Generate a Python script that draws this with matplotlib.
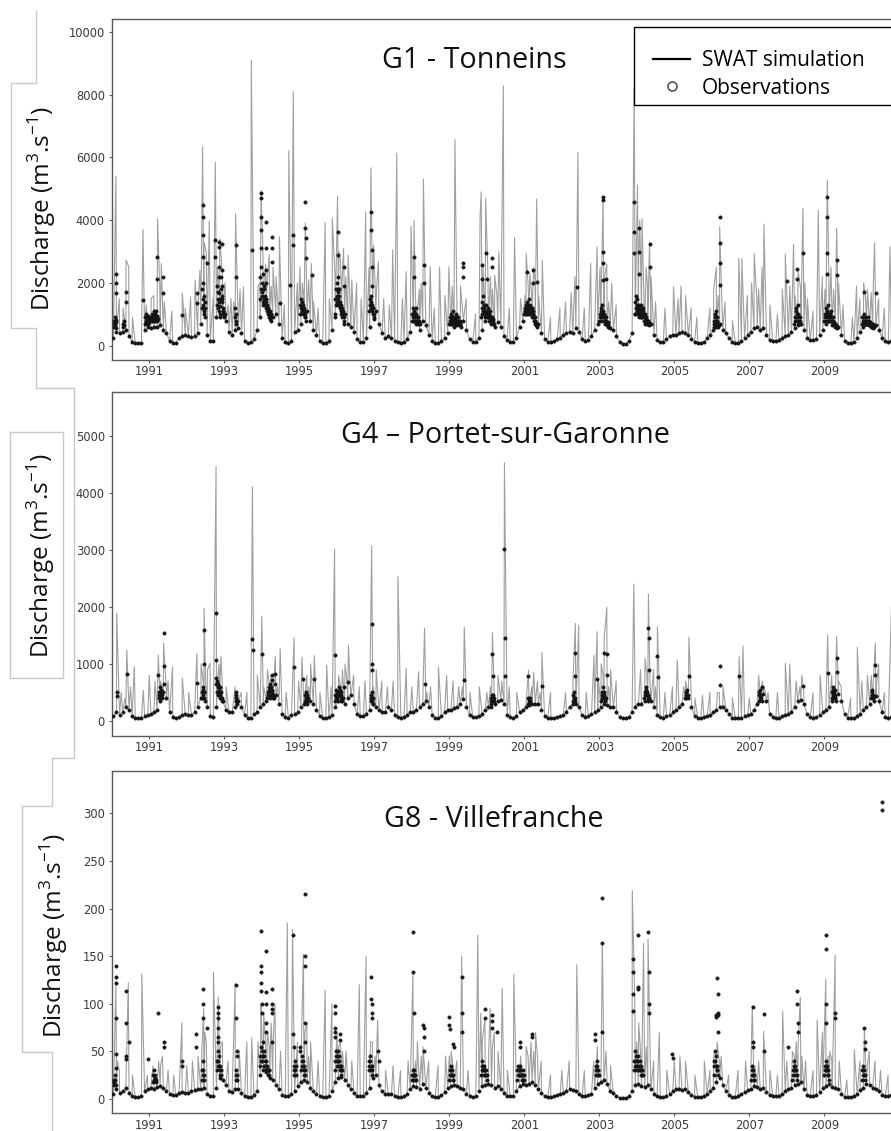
import matplotlib
matplotlib.use("Agg")
import matplotlib.pyplot as plt
from matplotlib.lines import Line2D
from matplotlib.patches import Rectangle

# ---------------------------------------------------------------- data
years = list(range(1990, 2011))
tick_years = [1991, 1993, 1995, 1997, 1999, 2001, 2003, 2005, 2007, 2009]

# Monthly flow level (Jan..Dec) for each year, m3/s
g1_monthly = [
    [250, 450, 400, 450, 500, 300, 120, 90, 80, 100, 500, 600],
    [550, 600, 600, 650, 500, 400, 150, 100, 100, 250, 300, 350],
    [300, 280, 300, 400, 700, 1000, 350, 150, 160, 900, 1500, 1100],
    [800, 450, 350, 500, 550, 400, 150, 100, 110, 200, 500, 900],
    [1300, 1500, 1100, 900, 1000, 700, 250, 120, 100, 150, 450, 500],
    [700, 1000, 1100, 800, 500, 350, 150, 90, 80, 150, 500, 900],
    [1300, 1200, 1000, 700, 600, 450, 200, 130, 120, 250, 600, 1200],
    [1100, 700, 400, 250, 300, 250, 150, 120, 100, 120, 200, 450],
    [800, 700, 500, 800, 650, 350, 150, 100, 100, 150, 250, 400],
    [700, 600, 650, 700, 800, 500, 200, 120, 130, 250, 500, 800],
    [900, 700, 600, 750, 600, 300, 180, 120, 130, 250, 600, 800],
    [1000, 1100, 1200, 900, 700, 400, 200, 130, 120, 150, 200, 250],
    [350, 400, 450, 400, 550, 450, 200, 150, 180, 300, 500, 700],
    [800, 900, 700, 550, 500, 300, 120, 70, 70, 150, 400, 1000],
    [1000, 900, 700, 800, 700, 350, 180, 120, 130, 200, 300, 350],
    [350, 400, 450, 400, 350, 200, 120, 90, 90, 120, 250, 350],
    [500, 600, 700, 500, 400, 250, 120, 100, 100, 150, 250, 350],
    [450, 550, 600, 500, 550, 350, 180, 150, 150, 180, 250, 300],
    [350, 450, 550, 650, 700, 500, 250, 170, 180, 220, 350, 500],
    [700, 800, 650, 700, 600, 350, 150, 100, 90, 110, 250, 450],
    [600, 700, 650, 550, 650, 500, 250, 150, 130, 150, 250, 300],
]
g4_monthly = [
    [80, 150, 100, 150, 250, 200, 80, 50, 50, 60, 80, 100],
    [120, 150, 200, 350, 500, 400, 150, 70, 60, 70, 100, 120],
    [100, 110, 150, 250, 400, 500, 250, 80, 70, 250, 500, 350],
    [200, 150, 150, 250, 350, 250, 100, 60, 60, 120, 150, 250],
    [300, 350, 400, 450, 450, 300, 120, 70, 60, 100, 120, 150],
    [250, 300, 300, 350, 300, 200, 90, 60, 60, 70, 100, 250],
    [350, 350, 300, 400, 450, 300, 120, 80, 80, 120, 200, 300],
    [250, 200, 150, 150, 250, 200, 100, 70, 60, 70, 100, 150],
    [150, 200, 250, 300, 350, 250, 100, 60, 60, 80, 150, 200],
    [200, 220, 250, 300, 380, 250, 100, 70, 70, 80, 120, 200],
    [250, 250, 300, 350, 370, 300, 100, 70, 60, 80, 150, 200],
    [250, 280, 300, 300, 300, 200, 90, 60, 60, 60, 70, 80],
    [100, 150, 250, 300, 300, 250, 100, 70, 80, 120, 150, 200],
    [250, 300, 280, 250, 250, 150, 70, 50, 50, 70, 150, 250],
    [300, 300, 350, 370, 350, 250, 100, 70, 60, 80, 100, 150],
    [200, 250, 300, 400, 450, 250, 80, 60, 60, 70, 80, 100],
    [150, 200, 250, 250, 200, 120, 60, 50, 50, 60, 80, 100],
    [120, 200, 300, 450, 480, 350, 120, 70, 60, 60, 80, 100],
    [120, 150, 250, 350, 370, 300, 120, 70, 60, 70, 100, 150],
    [200, 250, 350, 400, 480, 350, 120, 60, 55, 60, 80, 120],
    [200, 250, 300, 400, 430, 350, 150, 70, 60, 70, 100, 150],
]
g8_monthly = [
    [5, 10, 6, 8, 12, 6, 3, 2, 2, 3, 8, 10],
    [12, 11, 13, 14, 12, 8, 5, 4, 4, 6, 7, 6],
    [6, 8, 9, 10, 10, 12, 5, 3, 3, 12, 22, 20],
    [15, 8, 7, 10, 10, 6, 3, 2, 2, 4, 8, 25],
    [30, 28, 22, 20, 15, 10, 4, 3, 3, 5, 8, 14],
    [18, 20, 18, 12, 8, 5, 3, 2, 2, 3, 8, 18],
    [22, 23, 20, 15, 10, 6, 3, 3, 3, 6, 12, 22],
    [25, 15, 8, 5, 5, 5, 3, 2, 2, 3, 5, 10],
    [14, 13, 10, 16, 12, 6, 3, 2, 2, 4, 7, 12],
    [14, 15, 14, 12, 10, 5, 3, 2, 3, 8, 14, 15],
    [16, 15, 12, 14, 10, 6, 3, 3, 3, 8, 14, 16],
    [15, 16, 18, 15, 10, 6, 3, 2, 2, 3, 4, 5],
    [6, 8, 10, 9, 8, 5, 3, 3, 4, 5, 12, 16],
    [18, 20, 16, 8, 6, 3, 1.5, 1, 1, 3, 8, 15],
    [16, 14, 13, 15, 10, 5, 3, 2, 2, 3, 5, 8],
    [10, 10, 9, 10, 7, 4, 2, 2, 2, 3, 5, 8],
    [12, 18, 22, 15, 8, 4, 2, 2, 3, 5, 7, 9],
    [10, 14, 13, 10, 12, 7, 4, 3, 3, 3, 5, 8],
    [10, 12, 15, 16, 18, 10, 4, 3, 3, 4, 7, 12],
    [14, 16, 13, 12, 10, 5, 2, 2, 2, 3, 5, 9],
    [12, 16, 15, 12, 10, 8, 4, 3, 3, 4, 5, 8],
]

# Simulated flood peaks: (decimal year, discharge)
g1_sim_peaks = [
    (1990.05, 900), (1990.11, 5400), (1990.20, 1500), (1990.30, 1200), (1990.38, 2730),
    (1990.45, 2520), (1990.55, 900), (1990.83, 3700), (1990.92, 1300), (1991.05, 1500),
    (1991.12, 1600), (1991.22, 4050), (1991.28, 1800), (1991.32, 2620), (1991.40, 1400),
    (1991.60, 1100), (1991.88, 1670), (1991.96, 1200), (1992.10, 1560), (1992.22, 2090),
    (1992.30, 1300), (1992.35, 2400), (1992.42, 6340), (1992.46, 3300), (1992.52, 3000),
    (1992.60, 3970), (1992.70, 1500), (1992.76, 5840), (1992.82, 2500), (1992.88, 3400),
    (1992.95, 2200), (1993.02, 2000), (1993.10, 1300), (1993.18, 1500), (1993.25, 1400),
    (1993.30, 4210), (1993.42, 1800), (1993.51, 1880), (1993.72, 9100), (1993.90, 1900),
    (1993.95, 2000), (1993.98, 4940), (1994.03, 3000), (1994.10, 2600), (1994.15, 2200),
    (1994.20, 2900), (1994.25, 1900), (1994.30, 2500), (1994.38, 2200), (1994.47, 3470),
    (1994.60, 1300), (1994.72, 6210), (1994.84, 8090), (1994.95, 2000), (1995.02, 2520),
    (1995.08, 2000), (1995.12, 1500), (1995.16, 3900), (1995.25, 2100), (1995.32, 2620),
    (1995.38, 1400), (1995.50, 1200), (1995.69, 3920), (1995.80, 1500), (1995.88, 4060),
    (1995.95, 2300), (1996.02, 4770), (1996.06, 3000), (1996.10, 2700), (1996.14, 2000),
    (1996.18, 3100), (1996.24, 2200), (1996.30, 2890), (1996.35, 1500), (1996.40, 2100),
    (1996.53, 1990), (1996.65, 1500), (1996.77, 4270), (1996.86, 2500), (1996.91, 5670),
    (1996.98, 3200), (1997.02, 2000), (1997.06, 1800), (1997.11, 2680), (1997.25, 1500),
    (1997.40, 1300), (1997.49, 3050), (1997.60, 6130), (1997.75, 1500), (1997.85, 2360),
    (1997.98, 3810), (1998.06, 3980), (1998.10, 1500), (1998.20, 1800), (1998.25, 2000),
    (1998.31, 5300), (1998.36, 1500), (1998.49, 2520), (1998.60, 1200), (1998.74, 2500),
    (1998.88, 1600), (1998.99, 2520), (1999.08, 1900), (1999.15, 6570), (1999.20, 1600),
    (1999.30, 1900), (1999.45, 1500), (1999.70, 1000), (1999.82, 4100), (1999.85, 4900),
    (1999.90, 2500), (1999.97, 4690), (2000.03, 2300), (2000.10, 2200), (2000.15, 1800),
    (2000.21, 2250), (2000.27, 1600), (2000.32, 3000), (2000.44, 8280), (2000.60, 1200),
    (2000.74, 3450), (2000.90, 1500), (2001.02, 1600), (2001.05, 2940), (2001.10, 2000),
    (2001.15, 2300), (2001.19, 1700), (2001.25, 2500), (2001.29, 2000), (2001.33, 4670),
    (2001.38, 1600), (2001.48, 2730), (2001.70, 900), (2001.95, 1200), (2002.10, 1400),
    (2002.25, 1700), (2002.35, 2200), (2002.43, 6160), (2002.60, 1200), (2002.77, 2620),
    (2002.94, 3150), (2003.02, 2500), (2003.05, 1600), (2003.10, 4720), (2003.14, 2200),
    (2003.20, 2600), (2003.25, 1400), (2003.33, 1990), (2003.45, 1300), (2003.93, 8200),
    (2004.02, 5120), (2004.05, 2800), (2004.08, 4000), (2004.11, 2200), (2004.14, 4060),
    (2004.18, 2000), (2004.25, 2500), (2004.29, 1800), (2004.34, 3300), (2004.38, 2200),
    (2004.50, 1400), (2004.75, 1200), (2004.98, 1880), (2005.10, 1500), (2005.18, 1900),
    (2005.30, 1600), (2005.45, 1200), (2005.60, 900), (2005.95, 1200), (2006.05, 1800),
    (2006.12, 2500), (2006.17, 1600), (2006.21, 3790), (2006.35, 1400), (2006.55, 800),
    (2006.72, 2780), (2006.80, 2780), (2006.95, 1600), (2007.06, 2000), (2007.13, 2940),
    (2007.20, 1500), (2007.25, 1800), (2007.34, 2500), (2007.39, 3870), (2007.55, 1300),
    (2007.75, 1000), (2007.88, 1800), (2007.96, 2920), (2008.08, 1900), (2008.18, 3230),
    (2008.22, 1600), (2008.30, 2400), (2008.37, 1800), (2008.43, 4370), (2008.48, 2000),
    (2008.55, 1500), (2008.70, 1100), (2008.84, 4320), (2008.95, 2200), (2009.02, 1800),
    (2009.08, 5280), (2009.12, 2300), (2009.18, 2500), (2009.25, 1800), (2009.33, 3740),
    (2009.38, 2000), (2009.50, 1300), (2009.75, 900), (2009.86, 1900), (2009.95, 1500),
    (2010.05, 2000), (2010.10, 1500), (2010.15, 1800), (2010.25, 1700), (2010.30, 1600),
    (2010.34, 3280), (2010.45, 1500), (2010.60, 1200), (2010.75, 3150),
]
g4_sim_peaks = [
    (1990.13, 1887), (1990.25, 500), (1990.35, 400), (1990.40, 1245), (1990.50, 600),
    (1990.60, 950), (1990.84, 540), (1991.00, 800), (1991.15, 700), (1991.24, 1157),
    (1991.30, 700), (1991.38, 1360), (1991.45, 600), (1991.50, 700), (1991.62, 950),
    (1991.88, 750), (1992.05, 500), (1992.27, 1186), (1992.38, 1000), (1992.42, 800),
    (1992.46, 1975), (1992.50, 700), (1992.55, 900), (1992.62, 1010), (1992.78, 4457),
    (1992.82, 700), (1992.86, 1000), (1992.91, 1128), (1992.95, 600), (1993.05, 600),
    (1993.29, 600), (1993.35, 450), (1993.45, 500), (1993.60, 500), (1993.75, 4107),
    (1993.88, 800), (1994.00, 1840), (1994.05, 600), (1994.15, 900), (1994.20, 650),
    (1994.25, 800), (1994.32, 700), (1994.36, 1127), (1994.42, 600), (1994.49, 1270),
    (1994.65, 500), (1994.86, 1460), (1994.98, 700), (1995.07, 1116), (1995.20, 800),
    (1995.25, 600), (1995.30, 1000), (1995.35, 550), (1995.40, 1145), (1995.55, 500),
    (1995.73, 980), (1995.85, 600), (1995.94, 3014), (1996.05, 800), (1996.10, 600),
    (1996.15, 900), (1996.22, 1000), (1996.27, 700), (1996.31, 1330), (1996.35, 700),
    (1996.45, 800), (1996.60, 600), (1996.75, 700), (1996.93, 3067), (1996.97, 600),
    (1997.05, 900), (1997.20, 700), (1997.35, 600), (1997.50, 700), (1997.63, 2530),
    (1997.85, 923), (1998.00, 600), (1998.18, 865), (1998.30, 600), (1998.34, 1624),
    (1998.40, 500), (1998.50, 600), (1998.71, 950), (1998.93, 800), (1999.10, 700),
    (1999.25, 600), (1999.35, 600), (1999.40, 1640), (1999.55, 500), (1999.80, 600),
    (2000.00, 500), (2000.10, 600), (2000.15, 1548), (2000.30, 800), (2000.40, 700),
    (2000.47, 4527), (2000.60, 600), (2000.80, 500), (2001.11, 890), (2001.20, 600),
    (2001.25, 850), (2001.35, 700), (2001.42, 500), (2001.47, 1200), (2001.70, 500),
    (2002.10, 500), (2002.30, 700), (2002.36, 1710), (2002.40, 700), (2002.45, 1680),
    (2002.65, 500), (2002.86, 1150), (2002.94, 1565), (2002.98, 700), (2003.05, 1000),
    (2003.10, 800), (2003.13, 1450), (2003.20, 1990), (2003.25, 600), (2003.30, 900),
    (2003.45, 700), (2003.92, 2400), (2004.10, 900), (2004.22, 1100), (2004.27, 800),
    (2004.31, 2225), (2004.35, 700), (2004.45, 900), (2004.50, 600), (2004.55, 1650),
    (2004.75, 500), (2004.95, 600), (2005.08, 1070), (2005.25, 600), (2005.30, 700),
    (2005.39, 1466), (2005.45, 500), (2005.55, 400), (2005.75, 450), (2005.95, 500),
    (2006.15, 500), (2006.20, 500), (2006.30, 600), (2006.55, 400), (2006.73, 1127),
    (2006.83, 1315), (2007.00, 400), (2007.25, 800), (2007.30, 500), (2007.35, 700),
    (2007.40, 600), (2007.50, 500), (2007.75, 500), (2007.96, 1010), (2008.08, 1000),
    (2008.25, 700), (2008.35, 600), (2008.40, 800), (2008.45, 550), (2008.70, 500),
    (2008.89, 800), (2009.09, 1507), (2009.20, 800), (2009.25, 600), (2009.33, 1478),
    (2009.38, 700), (2009.45, 600), (2009.70, 400), (2009.88, 1290), (2010.00, 700),
    (2010.15, 800), (2010.25, 800), (2010.30, 600), (2010.36, 1360), (2010.40, 700),
    (2010.45, 1000), (2010.60, 500), (2010.79, 2000),
]
g8_sim_peaks = [
    (1990.11, 120), (1990.15, 40), (1990.20, 30), (1990.44, 122), (1990.55, 25),
    (1990.80, 131), (1990.95, 25), (1991.10, 35), (1991.25, 40), (1991.30, 35),
    (1991.35, 45), (1991.50, 30), (1991.65, 25), (1991.87, 80), (1992.00, 35),
    (1992.15, 40), (1992.30, 45), (1992.40, 50), (1992.45, 95), (1992.48, 70),
    (1992.52, 60), (1992.71, 133), (1992.84, 107), (1992.90, 55), (1992.95, 60),
    (1993.10, 40), (1993.29, 121), (1993.40, 50), (1993.60, 60), (1993.73, 64),
    (1993.90, 60), (1993.98, 100), (1994.00, 70), (1994.05, 90), (1994.10, 60),
    (1994.15, 70), (1994.20, 55), (1994.25, 80), (1994.30, 60), (1994.35, 100),
    (1994.50, 50), (1994.68, 185), (1994.82, 178), (1994.95, 60), (1995.05, 50),
    (1995.11, 152), (1995.15, 70), (1995.20, 80), (1995.25, 45), (1995.30, 60),
    (1995.50, 40), (1995.69, 114), (1995.87, 100), (1996.00, 70), (1996.05, 55),
    (1996.10, 60), (1996.15, 50), (1996.25, 50), (1996.40, 40), (1996.60, 120),
    (1996.78, 150), (1996.90, 60), (1996.95, 60), (1997.02, 45), (1997.09, 83),
    (1997.30, 30), (1997.50, 35), (1997.70, 30), (1997.90, 40), (1998.03, 133),
    (1998.10, 40), (1998.15, 60), (1998.25, 45), (1998.30, 55), (1998.45, 40),
    (1998.70, 35), (1998.90, 45), (1999.00, 45), (1999.05, 50), (1999.10, 35),
    (1999.20, 40), (1999.33, 150), (1999.50, 30), (1999.76, 172), (1999.84, 90),
    (1999.88, 60), (1999.95, 85), (2000.05, 50), (2000.09, 95), (2000.15, 55),
    (2000.20, 70), (2000.30, 50), (2000.41, 116), (2000.55, 30), (2000.72, 131),
    (2000.90, 45), (2001.05, 55), (2001.10, 45), (2001.18, 60), (2001.25, 50),
    (2001.30, 70), (2001.35, 45), (2001.45, 40), (2001.70, 25), (2002.00, 30),
    (2002.20, 40), (2002.40, 141), (2002.60, 30), (2002.85, 40), (2002.95, 55),
    (2003.05, 40), (2003.08, 164), (2003.12, 45), (2003.18, 50), (2003.30, 35),
    (2003.88, 219), (2003.95, 90), (2004.00, 60), (2004.05, 80), (2004.10, 50),
    (2004.18, 163), (2004.25, 55), (2004.30, 168), (2004.45, 40), (2004.60, 70),
    (2004.80, 30), (2005.00, 40), (2005.15, 45), (2005.30, 40), (2005.55, 25),
    (2005.80, 40), (2005.95, 30), (2006.05, 45), (2006.10, 50), (2006.14, 60),
    (2006.20, 40), (2006.25, 45), (2006.45, 25), (2006.70, 30), (2006.90, 40),
    (2007.05, 45), (2007.08, 98), (2007.15, 35), (2007.25, 40), (2007.38, 71),
    (2007.55, 30), (2007.75, 25), (2007.89, 92), (2008.00, 40), (2008.15, 50),
    (2008.20, 45), (2008.25, 60), (2008.30, 55), (2008.36, 107), (2008.40, 45),
    (2008.50, 40), (2008.70, 30), (2008.81, 83), (2008.95, 70), (2009.04, 126),
    (2009.10, 45), (2009.15, 50), (2009.20, 40), (2009.29, 151), (2009.40, 40),
    (2009.60, 20), (2009.80, 52), (2009.95, 40), (2010.07, 74), (2010.10, 40),
    (2010.15, 35), (2010.20, 50), (2010.35, 40), (2010.50, 30), (2010.70, 25),
]

# Observed flood events: (start decimal year, successive daily discharges)
g1_obs_floods = [
    (1990.11, [2300, 1990, 1670, 820, 550]), (1990.38, [1720, 1400]),
    (1990.83, [1450]), (1991.20, [2830, 2110]), (1991.36, [2200, 1670]),
    (1991.88, [980]), (1992.27, [1670, 1350]), (1992.42, [4480, 4110, 3520, 2830]),
    (1992.53, [2620]), (1992.76, [3370, 2830]),
    (1992.85, [3300, 3150, 2500, 2200, 1670]), (1992.93, [3250, 2400, 1900, 1500]),
    (1993.32, [3200, 2200]), (1993.73, [3050]),
    (1993.98, [4850, 4710, 4100, 3680, 3100]), (1994.10, [3950, 3100, 2400, 2000]),
    (1994.27, [3470, 3100, 2670]), (1994.49, [1350]), (1994.74, [1930]),
    (1994.84, [3520, 3200]), (1995.16, [4590, 3740, 3420, 2780]), (1995.33, [2250]),
    (1996.02, [3630, 2890, 2200, 1800]), (1996.18, [2520, 1900]),
    (1996.92, [4270, 3680, 3050, 2520, 1900]), (1998.06, [2830, 2200]),
    (1998.33, [2570, 1990]), (1999.36, [2620, 2520, 2200]), (1999.88, [2570, 2140]),
    (1999.99, [2940, 2140]), (2000.14, [2780, 2520]), (2001.08, [2360]),
    (2001.22, [2410, 1990]), (2001.33, [2040]), (2002.40, [1880]),
    (2003.10, [4750, 4640, 2990, 2620, 2090]), (2003.18, [2140]),
    (2003.93, [4590, 3630, 2940]), (2004.06, [3740, 2990, 2300]), (2004.34, [3230, 2520]),
    (2006.21, [4090, 3260, 2620, 1930]), (2008.00, [2070]), (2008.27, [2460, 2140]),
    (2008.43, [2940]), (2009.07, [4750, 4110, 2940, 2300]), (2009.33, [2730, 2250]),
    (2010.05, [1700]), (2010.37, [1690]),
]
g4_obs_floods = [
    (1990.14, [500, 430]), (1990.41, [820]), (1991.24, [800]),
    (1991.38, [1536, 970, 640]), (1992.27, [660]), (1992.46, [1600, 1000]),
    (1992.78, [1890, 1070, 750, 650]), (1993.30, [500]), (1993.75, [1430, 1240]),
    (1994.00, [1180]), (1994.28, [800, 720]), (1994.36, [820, 650]), (1994.86, [940]),
    (1995.10, [730]), (1995.40, [730]), (1995.94, [1150]), (1996.20, [600]),
    (1996.31, [680]), (1996.93, [1700, 1000, 900]), (1998.34, [640]), (1999.40, [720]),
    (2000.15, [1170, 780]), (2000.47, [3010, 1450, 790]), (2001.11, [790]),
    (2001.47, [620]), (2002.36, [1200, 790]), (2002.94, [730]), (2003.13, [1190]),
    (2003.20, [1170, 800]), (2004.31, [1635, 1460, 900]), (2004.55, [1140, 770]),
    (2005.39, [790]), (2006.22, [964, 630]), (2006.73, [780]), (2007.35, [600]),
    (2008.43, [620]), (2009.09, [835]), (2009.33, [1110, 865]), (2010.36, [980, 800]),
]
g8_obs_floods = [
    (1990.11, [140, 128, 122, 85, 47, 33]), (1990.38, [113, 80, 45, 42]),
    (1990.47, [60]), (1990.96, [42]), (1991.22, [90]), (1991.38, [60, 55]),
    (1991.87, [40, 35]), (1992.25, [68, 55]), (1992.42, [116, 100, 85]),
    (1992.53, [75]), (1992.82, [97, 90, 85, 75, 65, 60]), (1993.32, [120, 85, 50, 45]),
    (1993.98, [176, 140, 133, 122, 113, 100, 90]), (1994.10, [155, 112, 100, 80, 70]),
    (1994.27, [116, 100, 95, 90, 60]), (1994.84, [172, 68, 55]), (1995.02, [55, 50]),
    (1995.14, [215, 150, 140, 80, 60]), (1995.94, [98, 90, 75, 70, 65]),
    (1996.08, [68, 62]), (1996.92, [128, 105, 100, 90, 85]), (1997.11, [50, 40]),
    (1998.04, [175, 133, 90]), (1998.31, [78, 75, 65, 50]), (1999.00, [86, 78, 73]),
    (1999.11, [58, 55]), (1999.33, [128, 90, 70]), (1999.96, [95, 85]),
    (2000.13, [88, 82, 75]), (2000.27, [70]), (2000.89, [60, 55]), (2001.20, [68, 65]),
    (2002.89, [68, 62]), (2003.07, [211, 164, 70]), (2003.90, [147, 133, 110, 92]),
    (2004.02, [172, 118, 115]), (2004.31, [175, 133, 100, 90]), (2004.95, [47, 43]),
    (2006.10, [88, 86]), (2006.15, [127, 110, 90, 88, 70]), (2007.09, [97, 60, 55]),
    (2007.39, [89, 50]), (2008.04, [55]), (2008.28, [113, 100, 80, 70]),
    (2009.04, [172, 157, 100, 80]), (2009.29, [90, 85]), (2010.07, [75, 60, 52]),
    (2010.53, [312, 303]),
]

# Observed wet-season readings: (start decimal year, values every 4 days)
WET_STEP_DAYS = 4
g1_obs_wet = [
    (1990.05, [600, 800, 700, 900, 650, 750]),
    (1990.30, [700, 600, 800, 650]),
    (1990.88, [700, 900, 800, 1000, 750, 850, 900, 700, 800, 950, 750, 850]),
    (1991.05, [900, 800, 1000, 850, 950, 800, 1100, 900, 850, 1000, 800, 900, 1100,
               950, 800, 900, 850]),
    (1992.40, [1200, 1800, 1500, 2000, 1300, 1600, 1100, 1400, 900, 1200]),
    (1992.80, [1900, 1300, 1700, 1200, 1500, 1100, 1400, 1000, 1250, 900, 2200, 1800,
               1600, 1400, 1200, 1100, 1000, 950, 900, 1000]),
    (1993.28, [900, 1200, 800, 1000, 700]),
    (1993.95, [1500, 2200, 1800, 2500, 1600, 2000, 1700, 1400, 2300, 1900, 1500, 1800,
               1300, 1600, 1400, 1200, 1500, 1100, 1300, 1000, 1200, 1000, 900, 1100,
               950, 850, 1000, 800, 900]),
    (1995.02, [1000, 1300, 1200, 1500, 1100, 1400, 1200, 1000, 1300, 1100, 1200, 900,
               1000, 900, 800]),
    (1995.95, [1000, 1500, 1300, 1800, 1600, 2000, 1400, 1700, 1500, 1300, 1800, 1600,
               1200, 1400, 1100, 1300, 1000, 1200, 900, 1100, 1000, 800, 900, 700]),
    (1996.87, [1100, 1300, 1500, 1200, 1400, 1600, 1300, 1100, 1200, 1000, 900, 1000, 850]),
    (1998.00, [800, 1000, 900, 1200, 1000, 800, 1100, 900, 1000, 800, 1200, 1000, 900,
               800, 700, 900, 800, 750, 800, 700]),
    (1999.00, [700, 900, 800, 1000, 850, 700, 900, 800, 700, 900, 1100, 800, 750, 850,
               700, 900, 1000, 800, 900, 700, 800, 750, 900, 800, 700, 650, 800, 700, 600]),
    (1999.85, [900, 1200, 1000, 1400, 1100, 1600, 1300, 1000, 1200, 1100, 900, 1000,
               1300, 1100, 900, 1000, 1200, 900, 800, 1000, 900, 800, 1100, 900, 850,
               800, 900, 750, 800, 700, 850, 700]),
    (2001.00, [1000, 1200, 1100, 1300, 1000, 1200, 1400, 1100, 1300, 1000, 1200, 1100,
               1500, 1200, 1000, 1300, 1100, 1000, 1200, 900, 1100, 1000, 900, 800, 900,
               800, 700, 800, 700, 650, 700, 600, 700]),
    (2003.00, [800, 1000, 900, 1200, 1000, 1100, 900, 1300, 1000, 900, 1100, 800, 1000,
               900, 800, 700, 900, 800, 700, 650, 750, 600, 700, 600]),
    (2003.95, [1000, 1400, 1200, 1600, 1300, 1100, 1500, 1200, 1000, 1300, 1100, 900,
               1200, 1000, 900, 1100, 1300, 1000, 900, 1100, 1200, 900, 1000, 800, 900,
               1000, 850, 800, 900, 700, 800, 750, 700, 800, 700, 650, 700]),
    (2006.05, [600, 800, 700, 900, 1000, 800, 1100, 900, 700, 800, 700, 600, 700, 650]),
    (2008.20, [700, 900, 800, 1100, 900, 1200, 1000, 800, 900, 1300, 1000, 800, 700,
               900, 800, 700]),
    (2009.00, [800, 1000, 900, 1200, 1000, 800, 1100, 900, 1000, 800, 1300, 1000, 900,
               800, 1000, 900, 800, 1100, 900, 800, 700, 900, 800, 700, 750, 650, 700,
               600, 650, 600, 550, 600]),
    (2010.00, [700, 900, 800, 700, 900, 800, 1000, 800, 700, 900, 800, 700, 800, 700,
               900, 750, 700, 800, 650, 700, 750, 650, 700, 600, 650, 700, 600, 700,
               650, 600]),
]
g4_obs_wet = [
    (1991.25, [400, 500, 450, 600, 500, 550, 450, 500, 400, 450]),
    (1992.40, [400, 500, 600, 450, 550, 400, 500, 350]),
    (1992.80, [500, 700, 600, 450, 650, 550, 500, 400, 600, 450, 500, 400, 350, 400]),
    (1993.30, [350, 450, 400, 300, 350]),
    (1994.15, [400, 500, 450, 600, 550, 500, 650, 450, 600, 500, 550, 450, 500, 400,
               450, 400]),
    (1995.15, [350, 450, 400, 500, 450, 400, 350, 400]),
    (1995.95, [350, 450, 400, 550, 450, 500, 400, 450, 500, 600, 450, 500, 550, 450,
               400, 500, 450, 400, 350, 400]),
    (1996.90, [350, 450, 400, 500, 350, 400, 300]),
    (2000.10, [300, 400, 350, 450, 400, 350, 400, 450, 350, 400]),
    (2001.10, [300, 400, 350, 300, 400, 350]),
    (2002.30, [350, 450, 400, 500, 400, 350]),
    (2003.05, [350, 450, 400, 500, 600, 450, 400, 500, 450, 400, 350, 400]),
    (2004.20, [400, 500, 450, 600, 500, 550, 450, 500, 400, 450, 350, 400]),
    (2005.30, [400, 500, 450, 550, 450, 400]),
    (2007.25, [350, 450, 500, 400, 550, 450, 400, 350]),
    (2009.20, [400, 500, 450, 550, 600, 500, 450, 550, 450, 400, 350]),
    (2010.25, [400, 500, 450, 550, 450, 400, 350]),
]
g8_obs_wet = [
    (1990.05, [15, 20, 18, 25, 20, 15]),
    (1991.10, [18, 25, 20, 30, 22, 25, 20, 18]),
    (1992.40, [20, 30, 25, 40, 30, 25, 20]),
    (1992.80, [30, 40, 35, 50, 40, 35, 45, 30, 35, 25, 30, 25]),
    (1993.30, [20, 25, 30, 20, 25]),
    (1993.95, [35, 45, 40, 55, 45, 50, 40, 60, 45, 50, 35, 45, 40, 35, 40, 30, 35, 30,
               35, 30, 25, 30, 25, 30]),
    (1994.85, [25, 35, 30, 40, 30, 35, 25]),
    (1995.05, [30, 40, 35, 45, 35, 40, 30, 35, 25, 30, 25]),
    (1995.95, [30, 40, 45, 50, 40, 45, 35, 50, 40, 35, 45, 40, 35, 30, 35, 30, 25, 30]),
    (1996.85, [30, 40, 35, 45, 40, 35, 30, 35, 30, 25]),
    (1998.00, [20, 25, 30, 25, 20, 25, 30, 25, 20, 25, 20]),
    (1999.00, [20, 30, 25, 35, 30, 25, 30, 25, 20, 25, 20]),
    (1999.85, [25, 35, 30, 40, 30, 35, 25, 30, 35, 30, 25, 30, 25, 20, 25]),
    (2000.80, [20, 30, 25, 35, 30, 25, 30, 35, 30, 25, 30, 25, 20, 25, 30, 25, 20, 25, 20]),
    (2002.90, [25, 35, 30, 40, 35, 30, 25, 30, 25]),
    (2003.92, [30, 40, 35, 50, 40, 45, 35, 40, 30, 35, 45, 40, 35, 30, 40, 35, 30, 25,
               35, 30, 25, 30, 25]),
    (2006.05, [25, 35, 40, 50, 40, 45, 35, 30, 35, 30, 25]),
    (2007.05, [20, 30, 25, 35, 30, 25, 20, 25, 20]),
    (2008.15, [20, 30, 25, 35, 30, 40, 35, 30, 25, 30, 25, 20]),
    (2009.00, [25, 35, 30, 40, 35, 30, 35, 30, 25, 30, 25, 20]),
    (2010.00, [20, 30, 25, 35, 30, 25, 30, 25, 20]),
]

titles = ["G1 - Tonneins", "G4 \u2013 Portet-sur-Garonne", "G8 - Villefranche"]
ylabel_text = "Discharge (m$^\\mathregular{3}$.s$^\\mathregular{-1}$)"
legend_labels = ["SWAT simulation", "Observations"]

# ---------------------------------------------------------------- layout
W, H = 891, 1131
TEXT_FONT = "Open Sans"
plt.rcParams["font.family"] = ["DejaVu Sans"]
plt.rcParams["mathtext.fontset"] = "custom"
plt.rcParams["mathtext.rm"] = TEXT_FONT

fig = plt.figure(figsize=(W / 100, H / 100), dpi=100)
fig.patch.set_facecolor("white")


def fx(px):
    return px / W


def fy(py):
    return 1 - py / H


X_LEFT, X_RIGHT = 111.8, 899.3
panels = [
    dict(monthly=g1_monthly, peaks=g1_sim_peaks, floods=g1_obs_floods, wet=g1_obs_wet,
         top=19.3, bottom=360.0, ylim=(-455, 10400), yticks=range(0, 10001, 2000),
         title_xy=(474, 68.3), label_xy=(50, 208)),
    dict(monthly=g4_monthly, peaks=g4_sim_peaks, floods=g4_obs_floods, wet=g4_obs_wet,
         top=391.7, bottom=736.0, ylim=(-263, 5771), yticks=range(0, 5001, 1000),
         title_xy=(505, 443.3), label_xy=(49, 555)),
    dict(monthly=g8_monthly, peaks=g8_sim_peaks, floods=g8_obs_floods, wet=g8_obs_wet,
         top=771.0, bottom=1113.3, ylim=(-15, 344.4), yticks=range(0, 301, 50),
         title_xy=(493.5, 827.3), label_xy=(61.7, 935)),
]

SIM_COLOR = "#a0a0a0"
OBS_COLOR = "#141414"
SPINE_COLOR = "#5a5a5a"

for i, p in enumerate(panels):
    ax = fig.add_axes([fx(X_LEFT), fy(p["bottom"]), fx(X_RIGHT - X_LEFT),
                       (p["bottom"] - p["top"]) / H])

    # monthly points
    mt = [y + (m + 0.5) / 12 for y in years for m in range(12)]
    mq = [v for row in p["monthly"] for v in row]

    # simulation: monthly levels plus flood peaks, in time order
    sim = sorted(list(zip(mt, mq)) + list(p["peaks"]))
    ax.plot([s[0] for s in sim], [s[1] for s in sim], color=SIM_COLOR,
            lw=0.8, zorder=2)

    # observations: monthly levels, flood days and wet-season readings
    ot = list(mt)
    oq = list(mq)
    for t0, vals in p["floods"]:
        for k, v in enumerate(vals):
            ot.append(t0 + k / 365.25)
            oq.append(v)
    for t0, vals in p["wet"]:
        for k, v in enumerate(vals):
            ot.append(t0 + k * WET_STEP_DAYS / 365.25)
            oq.append(v)
    ax.plot(ot, oq, linestyle="none", marker="o", ms=2.4, mfc=OBS_COLOR,
            mec=OBS_COLOR, mew=0.4, zorder=3)

    ax.set_xlim(1990, 2011)
    ax.set_ylim(*p["ylim"])
    ax.set_xticks(tick_years)
    ax.set_xticklabels([str(y) for y in tick_years])
    ax.set_yticks(list(p["yticks"]))
    ax.set_yticklabels([str(v) for v in p["yticks"]])
    ax.tick_params(axis="both", labelsize=8.3, colors="#3a3a3a", length=2.5,
                   width=0.8, color=SPINE_COLOR)
    ax.tick_params(axis="x", pad=1.3)
    ax.tick_params(axis="y", pad=2.5)
    for sp in ax.spines.values():
        sp.set_color(SPINE_COLOR)
        sp.set_linewidth(1.0)

    fig.text(fx(p["title_xy"][0]), fy(p["title_xy"][1]), titles[i],
             family=TEXT_FONT, fontsize=20.7, color="#111111",
             ha="center", va="baseline")
    fig.text(fx(p["label_xy"][0]), fy(p["label_xy"][1]), ylabel_text,
             family=TEXT_FONT, fontsize=17.5, color="#111111", rotation=90,
             rotation_mode="anchor", ha="center", va="baseline")

# legend of the top panel: white box with black border, entries on top
fig.add_artist(Rectangle((fx(634), fy(105)), fx(940 - 634), 78 / H,
                         transform=fig.transFigure, facecolor="white",
                         edgecolor="black", lw=1.0, zorder=4.5))
handles = [
    Line2D([], [], color="black", lw=1.6),
    Line2D([], [], linestyle="none", marker="o", ms=6.5, mfc="none",
           mec="#555555", mew=1.2),
]
leg = fig.legend(handles, legend_labels, loc="center left",
                 bbox_to_anchor=(fx(653), fy(74.5)), bbox_transform=fig.transFigure,
                 borderaxespad=0, borderpad=0, prop={"family": TEXT_FONT, "size": 15},
                 frameon=False, handlelength=1.78, handletextpad=0.58,
                 labelspacing=0.3, numpoints=1)
leg.set_zorder(6)

# light frame lines around the axis-label boxes
FRAME = "#c8c8c8"
outline = [(36, 11), (36, 83), (11, 83), (11, 328), (36, 328), (36, 388),
           (74, 388), (74, 758), (52, 758), (52, 806), (22, 806), (22, 1052),
           (52, 1052), (52, 1131)]
box = [(10, 432), (63, 432), (63, 678), (10, 678), (10, 432)]
for path in (outline, box):
    fig.add_artist(Line2D([fx(a) for a, b in path], [fy(b) for a, b in path],
                          color=FRAME, lw=1.0))

fig.savefig("out.png", dpi=100, facecolor="white")
